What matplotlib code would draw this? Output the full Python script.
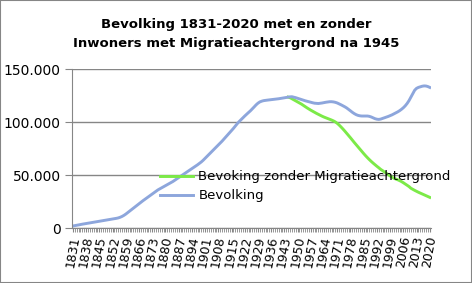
import numpy as np
import matplotlib
matplotlib.use("Agg")
import matplotlib.pyplot as plt
from matplotlib.patches import Rectangle

# jaartallen 1831 - 2020
jaren = list(range(1831, 2021))

bevolking = [
    2000, 2300, 2700, 3000, 3400, 3700, 4000, 4400, 4700, 5000,
    5300, 5600, 5900, 6200, 6500, 6800, 7100, 7400, 7700, 8000,
    8300, 8600, 8900, 9200, 9600, 10200, 11000, 12000, 13200, 14600,
    16000, 17400, 18800, 20200, 21600, 23000, 24400, 25700, 27000, 28300,
    29600, 31000, 32300, 33600, 34800, 36000, 37000, 38000, 39000, 40000,
    41000, 42000, 43000, 44000, 45200, 46400, 47600, 48800, 50000, 51200,
    52400, 53600, 54800, 56000, 57200, 58400, 59700, 61000, 62400, 64000,
    65800, 67600, 69400, 71200, 73000, 74800, 76600, 78400, 80200, 82000,
    84000, 86000, 88000, 90000, 92000, 94000, 96200, 98400, 100400, 102200,
    104000, 105700, 107400, 109000, 110600, 112400, 114300, 116200, 117800, 119000,
    119700, 120200, 120500, 120700, 120900, 121100, 121300, 121500, 121700, 122000,
    122300, 122600, 122900, 123200, 123500, 123800, 123900, 123500, 123000, 122400,
    121800, 121200, 120600, 120100, 119600, 119100, 118600, 118200, 117800, 117600,
    117500, 117700, 118000, 118400, 118700, 119000, 119200, 119200, 119000, 118600,
    118000, 117200, 116300, 115400, 114400, 113300, 112000, 110600, 109200, 108000,
    107000, 106300, 105900, 105700, 105700, 105800, 105700, 105400, 104800, 104000,
    103200, 102700, 102500, 102800, 103400, 104100, 104700, 105300, 106000, 106800,
    107700, 108600, 109600, 110700, 112000, 113500, 115300, 117500, 120200, 123500,
    127000, 130000, 131800, 132700, 133300, 133800, 134100, 134000, 133500, 132700,
]

# bevolking zonder migratieachtergrond, vanaf 1945
jaren_zonder = list(range(1945, 2021))
zonder = [
    123500, 123000, 122000, 121000, 120000, 119000,
    118000, 117000, 115800, 114600, 113400, 112300, 111200, 110200, 109200, 108200,
    107300, 106400, 105500, 104700, 104000, 103300, 102600, 101900, 101100, 100100,
    98800, 97200, 95400, 93500, 91500, 89400, 87300, 85200, 83000, 80800,
    78700, 76600, 74500, 72400, 70300, 68300, 66400, 64600, 62900, 61300,
    59800, 58300, 56900, 55400, 54200, 53000, 51700, 50400, 49200, 48100,
    47000, 46300, 45600, 44800, 43900, 42800, 41600, 40400, 39200, 37600,
    36600, 35600, 34700, 33800, 33000, 32200, 31400, 30600, 29800, 29000,
]

label_jaren = list(range(1831, 2021, 7))
y_ticks = [0, 50000, 100000, 150000]
y_labels = ["0", "50.000", "100.000", "150.000"]

blauw = "#8DA6DC"
groen = "#7CEA48"
grijs = "#868686"

fig = plt.figure(figsize=(4.72, 2.83), dpi=100)
ax = fig.add_axes([0.1525, 0.194, 0.76, 0.562])

l1, = ax.plot(jaren_zonder, zonder, color=groen, lw=2.1)
l2, = ax.plot(jaren, bevolking, color=blauw, lw=2.1)

ax.set_xlim(1830.5, 2020.5)
ax.set_ylim(0, 150000)

ax.set_yticks(y_ticks)
ax.set_yticklabels(y_labels, fontsize=10)
ax.set_xticks(label_jaren)
ax.set_xticklabels([str(j) for j in label_jaren], rotation=80, fontsize=9,
                   fontfamily=["Liberation Sans Narrow", "DejaVu Sans"])
ax.set_xticks(jaren, minor=True)
ax.tick_params(axis="x", which="both", length=3, color=grijs, pad=2)
ax.tick_params(axis="y", length=5, color=grijs, pad=3)

ax.yaxis.grid(True, color=grijs, lw=1)
ax.set_axisbelow(True)
for s in ["top", "right"]:
    ax.spines[s].set_visible(False)
for s in ["left", "bottom"]:
    ax.spines[s].set_color(grijs)

fig.text(0.5, 0.912, "Bevolking 1831-2020 met en zonder", ha="center", va="center",
         fontsize=9.5, fontweight="bold")
fig.text(0.5, 0.848, "Inwoners met Migratieachtergrond na 1945", ha="center", va="center",
         fontsize=9.5, fontweight="bold")

ax.legend([l1, l2], ["Bevoking zonder Migratieachtergrond", "Bevolking"],
          loc="upper left", bbox_to_anchor=(0.339, 0.398), bbox_transform=fig.transFigure,
          frameon=False, fontsize=9.5, handlelength=2.5, handletextpad=0.4,
          labelspacing=0.45, borderpad=0, borderaxespad=0)

fig.patches.append(Rectangle((0, 0), 1, 1, transform=fig.transFigure, fill=False,
                             edgecolor=grijs, lw=1.5))

fig.savefig("out.png", dpi=100)
